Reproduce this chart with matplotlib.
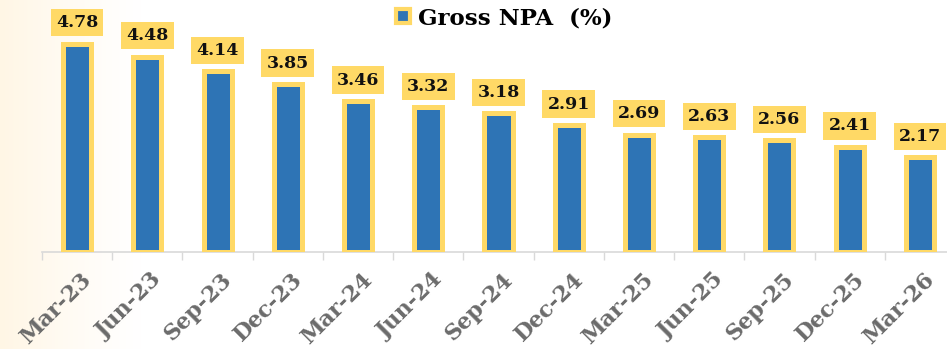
import numpy as np
import matplotlib
matplotlib.use("Agg")
import matplotlib.pyplot as plt
from matplotlib.lines import Line2D

quarters = ["Mar-23", "Jun-23", "Sep-23", "Dec-23", "Mar-24", "Jun-24", "Sep-24",
            "Dec-24", "Mar-25", "Jun-25", "Sep-25", "Dec-25", "Mar-26"]
gross_npa = [4.78, 4.48, 4.14, 3.85, 3.46, 3.32, 3.18, 2.91, 2.69, 2.63, 2.56, 2.41, 2.17]

BLUE = "#2E74B5"
GOLD = "#FFD966"
GREY = "#6B6B6B"
SERIF = ["DejaVu Serif"]

W, H = 947, 349
fig = plt.figure(figsize=(W / 100, H / 100), dpi=100)

# soft cream wash on the left edge of the canvas
bg = fig.add_axes([0, 0, 1, 1], zorder=-10)
grad = np.linspace(0, 1, 600)
alpha = np.clip(1 - grad / 0.15, 0, 1) ** 1.2
rgba = np.ones((1, 600, 4))
rgba[..., 0] = 1.0
rgba[..., 1] = 0.968
rgba[..., 2] = 0.90
rgba[..., 3] = alpha
bg.imshow(rgba, aspect="auto", extent=[0, 1, 0, 1])
bg.set_axis_off()

left_px, right_px, base_px = 42, 955, 252
ax = fig.add_axes([left_px / W, 1 - base_px / H, (right_px - left_px) / W, base_px / H])
ax.patch.set_alpha(0)

x = np.arange(len(quarters))
ax.bar(x, gross_npa, width=0.40, color=BLUE, edgecolor=GOLD, linewidth=3.6, zorder=3)

ax.set_xlim(-0.5, len(quarters) - 0.5)
ax.set_ylim(0, base_px / 43.6)

for xi, v in zip(x, gross_npa):
    ax.annotate(f"{v:.2f}", (xi, v), xytext=(0, 9), textcoords="offset points",
                ha="center", va="bottom", fontsize=12.5, fontweight="bold",
                family=SERIF, color="#111111",
                bbox=dict(boxstyle="square,pad=0.3", fc=GOLD, ec="none"), zorder=5)

for s in ["top", "right", "left"]:
    ax.spines[s].set_visible(False)
ax.spines["bottom"].set_color("#D9D9D9")
ax.spines["bottom"].set_linewidth(1.2)
ax.set_yticks([])

ax.set_xticks(np.arange(len(quarters) + 1) - 0.5, minor=True)
ax.set_xticks(x + 0.05)
ax.set_xticklabels(quarters, rotation=45, ha="right", rotation_mode="anchor",
                   fontsize=16, fontweight="bold", family=SERIF, color=GREY)
ax.tick_params(axis="x", which="major", length=0, pad=12)
ax.tick_params(axis="x", which="minor", length=6, color="#D9D9D9", width=1)

handle = Line2D([], [], marker="s", linestyle="none", markersize=10.5,
                markerfacecolor=BLUE, markeredgecolor=GOLD, markeredgewidth=3)
fig.legend([handle], ["Gross NPA  (%)"], loc="center",
           bbox_to_anchor=(503 / W, 1 - 18 / H),
           frameon=False, handletextpad=0.25, handlelength=0.8,
           prop=dict(family=SERIF, weight="bold", size=16.5))

fig.savefig("out.png", dpi=100)
